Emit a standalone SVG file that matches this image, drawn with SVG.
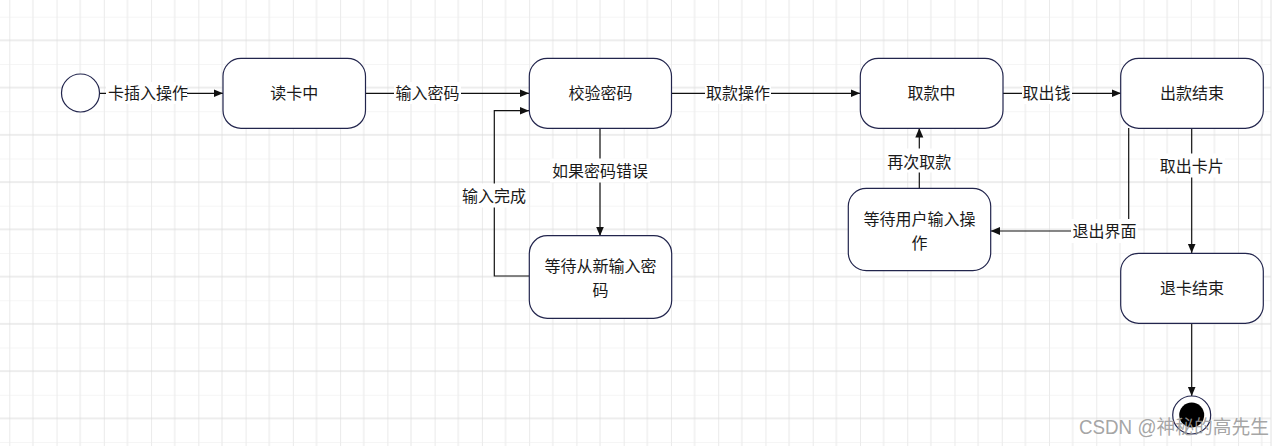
<svg xmlns="http://www.w3.org/2000/svg" width="1286" height="446" viewBox="0 0 1286 446">
  <defs>
    <pattern id="grid" patternUnits="userSpaceOnUse" x="9.3" y="16.7" width="47.26" height="47.26">
      <line x1="0" y1="0" x2="0" y2="47.26" stroke="#dcdcdc" stroke-width="1.2"/>
      <line x1="23.63" y1="0" x2="23.63" y2="47.26" stroke="#ececec" stroke-width="1.2"/>
      <line x1="0" y1="0" x2="47.26" y2="0" stroke="#ececec" stroke-width="1.2"/>
      <line x1="0" y1="23.63" x2="47.26" y2="23.63" stroke="#dcdcdc" stroke-width="1.2"/>
    </pattern>
    <marker id="arrow" markerUnits="userSpaceOnUse" markerWidth="10" markerHeight="10" viewBox="0 0 10 10" refX="9.5" refY="5" orient="auto">
      <path d="M0,1 L9.5,5 L0,9 z" fill="#111"/>
    </marker>
  </defs>
  <style>
    .node { fill: #ffffff; stroke: #22254d; stroke-width: 1.2; }
    .txt { font-family: "Liberation Sans", "Noto Sans CJK SC", sans-serif; font-size: 16px; fill: #1a1a1a; text-anchor: middle; dominant-baseline: central; }
    .edge { fill: none; stroke: #111; stroke-width: 1.2; marker-end: url(#arrow); }
    .plain { fill: none; stroke: #111; stroke-width: 1.2; }
    .lblbg { fill: #ffffff; }
  </style>

  <rect x="0" y="0" width="1286" height="446" fill="#ffffff"/>
  <rect x="0" y="0" width="1271" height="446" fill="url(#grid)"/>
  <line x1="1271" y1="0" x2="1271" y2="446" stroke="#e2e2e2" stroke-width="1"/>

  <g id="connectors">
    <path class="edge" d="M99.5 93.3 H223"/>
    <path class="edge" d="M365 93.3 H529"/>
    <path class="edge" d="M671 93.3 H860"/>
    <path class="edge" d="M1003 93.3 H1121"/>
    <path class="edge" d="M600 128 V236"/>
    <path class="edge" d="M529 276 H494.3 V110.7 H529"/>
    <path class="edge" d="M919.3 188 V128"/>
    <path class="edge" d="M1128.7 128 V231 H990.7"/>
    <path class="edge" d="M1191.7 128 V253"/>
    <path class="edge" d="M1191.7 323 V396"/>

    <g id="edge-labels">
      <rect class="lblbg" x="106" y="82" width="81" height="22"/>
      <text class="txt" x="148" y="93">卡插入操作</text>
      <rect class="lblbg" x="394" y="82" width="67" height="22"/>
      <text class="txt" x="427.5" y="93">输入密码</text>
      <rect class="lblbg" x="705" y="82" width="66" height="22"/>
      <text class="txt" x="738" y="93">取款操作</text>
      <rect class="lblbg" x="1022" y="82" width="50" height="22"/>
      <text class="txt" x="1046.5" y="93">取出钱</text>
      <rect class="lblbg" x="550" y="158.5" width="100" height="24"/>
      <text class="txt" x="600" y="171.5">如果密码错误</text>
      <rect class="lblbg" x="461" y="183.5" width="66" height="24"/>
      <text class="txt" x="494" y="196.5">输入完成</text>
      <rect class="lblbg" x="886" y="148.5" width="67" height="24"/>
      <text class="txt" x="919.3" y="162.5">再次取款</text>
      <rect class="lblbg" x="1071" y="219" width="67" height="24"/>
      <text class="txt" x="1104.5" y="231.5">退出界面</text>
      <rect class="lblbg" x="1158" y="153.5" width="67" height="24"/>
      <text class="txt" x="1191.7" y="166.5">取出卡片</text>
    </g>
  </g>

  <g id="start">
    <circle class="node" cx="80.5" cy="93" r="19"/>
  </g>
  <g id="read-card">
    <rect class="node" x="223" y="58.3" width="142.5" height="70" rx="18"/>
    <text class="txt" x="294.2" y="93.5">读卡中</text>
  </g>
  <g id="verify-pwd">
    <rect class="node" x="529.3" y="58.3" width="142.2" height="70" rx="18"/>
    <text class="txt" x="600.4" y="93.5">校验密码</text>
  </g>
  <g id="withdrawing">
    <rect class="node" x="860.3" y="58.3" width="142.7" height="70" rx="18"/>
    <text class="txt" x="931.6" y="93.5">取款中</text>
  </g>
  <g id="dispense-done">
    <rect class="node" x="1120.7" y="58.3" width="142.6" height="70" rx="18"/>
    <text class="txt" x="1192" y="93.5">出款结束</text>
  </g>
  <g id="reenter-pwd">
    <rect class="node" x="529.3" y="235.7" width="142.4" height="82.6" rx="18"/>
    <text class="txt" x="600.5" y="266.7">等待从新输入密</text>
    <text class="txt" x="600.5" y="290.5">码</text>
  </g>
  <g id="wait-user">
    <rect class="node" x="848.3" y="188.3" width="142.4" height="82.4" rx="18"/>
    <text class="txt" x="919.5" y="219.8">等待用户输入操</text>
    <text class="txt" x="919.5" y="243.3">作</text>
  </g>
  <g id="eject-done">
    <rect class="node" x="1120.7" y="253.3" width="142.6" height="70" rx="18"/>
    <text class="txt" x="1192" y="288.5">退卡结束</text>
  </g>
  <g id="end">
    <circle class="node" cx="1191.7" cy="415" r="19"/>
    <circle cx="1191.7" cy="415" r="12.5" fill="#000"/>
  </g>

  <text x="1079" y="434" font-family="Liberation Sans, Noto Sans CJK SC, sans-serif" font-size="19.5" fill="#9a9a9a" fill-opacity="0.9" textLength="190" lengthAdjust="spacingAndGlyphs">CSDN @神秘的高先生</text>
</svg>
